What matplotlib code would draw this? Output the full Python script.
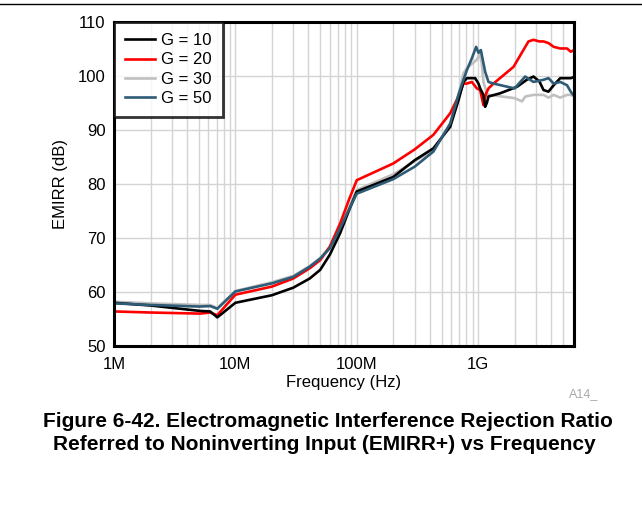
import matplotlib
matplotlib.use("Agg")
import matplotlib.pyplot as plt
from matplotlib.ticker import FixedLocator, NullFormatter, LogLocator
from matplotlib.lines import Line2D

plt.rcParams['font.family'] = ['Liberation Sans', 'DejaVu Sans']

# ---- data (frequency in Hz, EMIRR+ in dB) ----
freq_g10 = [1e6, 2e6, 5.1e6, 6.2e6, 7.1e6, 10e6, 20e6, 30e6, 41e6, 50e6, 60e6, 73e6, 86e6, 100e6,
            200e6, 300e6, 428e6, 589e6, 689e6, 758e6, 809e6, 834e6, 946e6, 1.007e9, 1.04e9, 1.107e9,
            1.143e9, 1.18e9, 1.218e9, 1.52e9, 2.09e9, 2.52e9, 2.86e9, 3.2e9, 3.46e9, 3.8e9, 4.2e9,
            4.75e9, 5.4e9, 5.8e9, 6.17e9]
emirr_g10 = [58.0, 57.5, 56.5, 56.4, 55.3, 58.0, 59.4, 60.8, 62.5, 64.1, 66.9, 70.9, 75.0, 78.6,
             81.3, 84.4, 86.6, 90.6, 95.5, 98.9, 99.6, 99.6, 99.6, 98.6, 97.7, 96.5,
             94.3, 95.0, 96.2, 96.8, 98.0, 99.3, 99.9, 99.0, 97.4, 97.1, 98.3,
             99.6, 99.6, 99.6, 99.8]

freq_g20 = [1e6, 2e6, 5.1e6, 6.2e6, 7.1e6, 10e6, 20e6, 30e6, 41e6, 50e6, 60e6, 73e6, 86e6, 100e6,
            200e6, 300e6, 428e6, 589e6, 689e6, 758e6, 809e6, 889e6, 977e6, 1.04e9, 1.107e9,
            1.166e9, 1.218e9, 1.34e9, 1.96e9, 2.6e9, 2.86e9, 3.2e9, 3.46e9, 3.8e9, 4.2e9,
            4.75e9, 5.4e9, 5.8e9, 6.17e9]
emirr_g20 = [56.4, 56.2, 56.0, 56.2, 55.7, 59.5, 61.0, 62.5, 64.4, 65.9, 68.4, 72.7, 77.0, 80.7,
             83.8, 86.4, 89.1, 93.1, 96.2, 98.6, 98.6, 98.9, 97.7, 97.4, 94.6,
             96.8, 97.7, 98.6, 101.7, 106.4, 106.7, 106.4, 106.4, 106.1, 105.4,
             105.1, 105.1, 104.5, 104.8]

freq_g30 = [1e6, 2e6, 5.1e6, 6.2e6, 7.1e6, 10e6, 20e6, 30e6, 41e6, 50e6, 60e6, 73e6, 86e6, 100e6,
            200e6, 300e6, 428e6, 589e6, 689e6, 758e6, 809e6, 860e6, 977e6, 1.03e9, 1.07e9, 1.107e9,
            1.18e9, 1.22e9, 1.34e9, 2.0e9, 2.3e9, 2.45e9, 2.86e9, 3.46e9, 3.8e9, 4.2e9,
            4.75e9, 5.4e9, 5.8e9, 6.17e9]
emirr_g30 = [58.2, 57.9, 57.6, 57.6, 57.0, 60.2, 61.8, 63.0, 64.8, 66.3, 68.3, 72.0, 75.5, 78.9,
             81.8, 84.2, 86.3, 91.0, 96.5, 100.5, 101.5, 102.0, 103.0, 104.2, 102.5, 98.9,
             96.8, 96.5, 96.4, 95.9, 95.3, 96.2, 96.5, 96.5, 96.0, 96.5,
             96.0, 96.5, 96.5, 96.3]

freq_g50 = [1e6, 2e6, 5.1e6, 6.2e6, 7.1e6, 10e6, 20e6, 30e6, 41e6, 50e6, 60e6, 73e6, 86e6, 100e6,
            200e6, 300e6, 428e6, 589e6, 689e6, 758e6, 809e6, 889e6, 964e6, 1.007e9, 1.054e9,
            1.143e9, 1.218e9, 1.34e9, 2.0e9, 2.44e9, 2.86e9, 3.46e9, 3.8e9, 4.2e9,
            4.75e9, 5.4e9, 5.8e9, 6.17e9]
emirr_g50 = [57.9, 57.6, 57.3, 57.4, 56.9, 60.1, 61.6, 62.8, 64.7, 66.2, 68.1, 71.8, 75.2, 78.2,
             80.9, 83.2, 86.0, 91.2, 96.5, 99.3, 101.1, 103.3, 105.4, 104.3, 104.8,
             100.8, 98.9, 98.6, 97.7, 99.9, 98.9, 99.3, 99.6, 98.6,
             98.9, 98.3, 97.1, 96.3]

series_labels = ["G = 10", "G = 20", "G = 30", "G = 50"]
series_colors = ["#000000", "#ff0000", "#c0c0c0", "#2e5b75"]

y_ticks = [50, 60, 70, 80, 90, 100, 110]
x_ticks = [1e6, 1e7, 1e8, 1e9]
x_tick_labels = ["1M", "10M", "100M", "1G"]

# ---- figure ----
fig = plt.figure(figsize=(6.42, 5.08), dpi=100)
ax = fig.add_axes([114/642, 1-346/508, (574-114)/642, (346-22)/508])

data = [(freq_g10, emirr_g10), (freq_g20, emirr_g20), (freq_g30, emirr_g30), (freq_g50, emirr_g50)]
zorders = [4, 3, 2, 5]
for (f, v), lab, col, z in zip(data, series_labels, series_colors, zorders):
    ax.plot(f, v, color=col, lw=1.9, label=lab, zorder=z, solid_joinstyle='round')

ax.set_xscale('log')
ax.set_xlim(1e6, 6.17e9)
ax.set_ylim(50, 110)
ax.xaxis.set_major_locator(FixedLocator(x_ticks))
ax.set_xticklabels(x_tick_labels)
ax.xaxis.set_minor_locator(LogLocator(base=10, subs=range(2, 10)))
ax.xaxis.set_minor_formatter(NullFormatter())
ax.set_yticks(y_ticks)

ax.grid(True, which='major', color='#d4d4d4', lw=1.0, zorder=0)
ax.grid(True, which='minor', axis='x', color='#d4d4d4', lw=1.0, zorder=0)
ax.set_axisbelow(True)
ax.tick_params(which='both', length=0, labelsize=12)
ax.tick_params(axis='x', pad=8)
ax.tick_params(axis='y', pad=6)

for s in ax.spines.values():
    s.set_linewidth(2.2)
    s.set_color('black')
    s.set_zorder(10)

ax.set_xlabel("Frequency (Hz)", fontsize=12, labelpad=2)
ax.set_ylabel("EMIRR (dB)", fontsize=12, labelpad=7)

leg = ax.legend(loc='upper left', fontsize=12, frameon=True, fancybox=False,
                edgecolor='black', borderaxespad=0, handlelength=1.75,
                labelspacing=0.25, borderpad=0.68, handletextpad=0.4)
leg.get_frame().set_linewidth(2.0)
leg.set_zorder(20)

fig.text(569/642, 1-397/508, "A14_", fontsize=9, color='#a8a8a8', ha='left', va='baseline')
fig.text(327.5/642, 1-427/508, "Figure 6-42. Electromagnetic Interference Rejection Ratio",
         fontsize=15, fontweight='bold', ha='center', va='baseline')
fig.text(324.5/642, 1-450/508, "Referred to Noninverting Input (EMIRR+) vs Frequency",
         fontsize=15, fontweight='bold', ha='center', va='baseline')

fig.add_artist(Line2D([0, 1], [1-4/508, 1-4/508], color='black', lw=1.0, transform=fig.transFigure))

fig.savefig("out.png", dpi=100)
